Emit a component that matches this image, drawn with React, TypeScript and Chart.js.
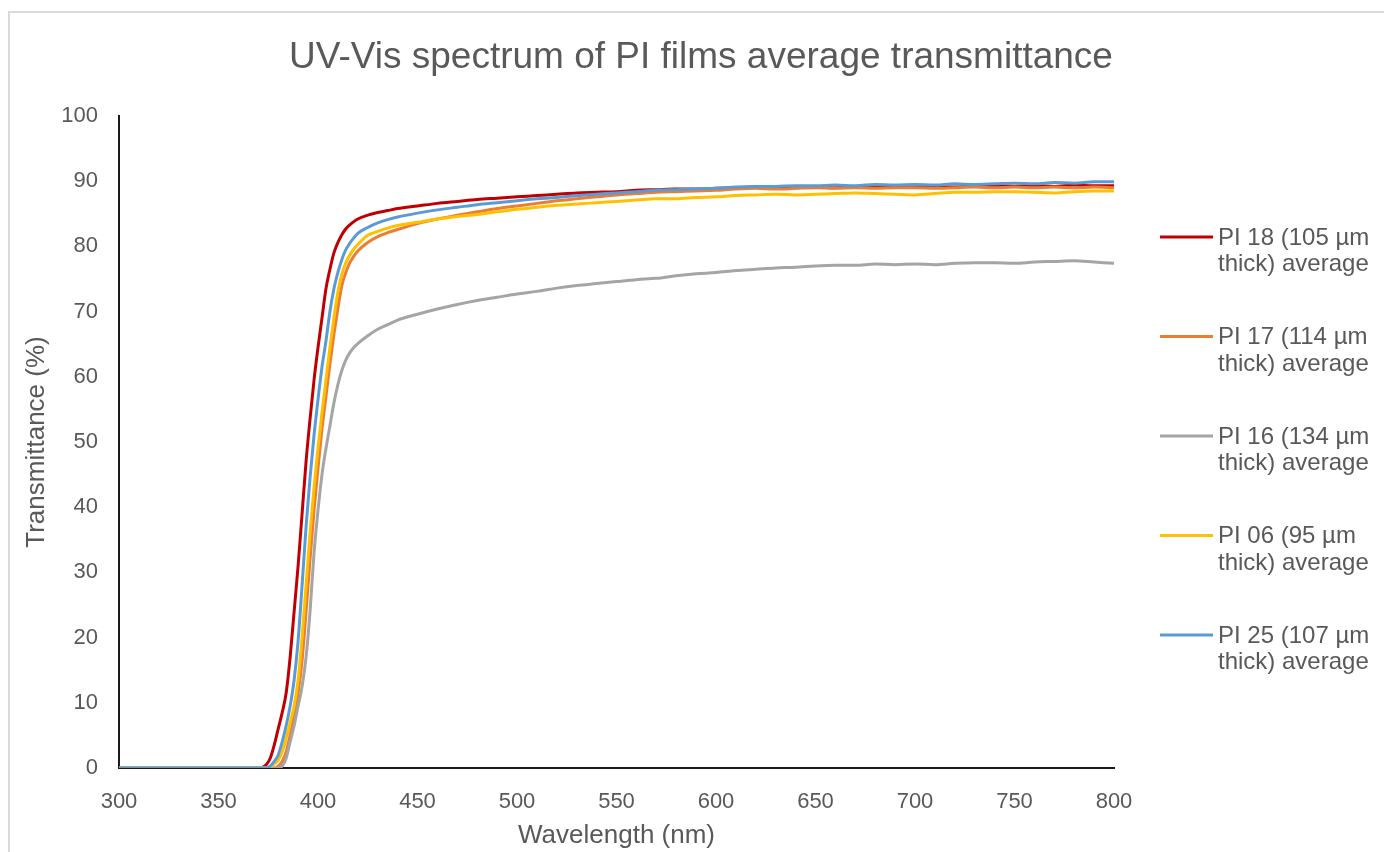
import React, { useEffect, useRef } from "react";
import { Chart, registerables } from "chart.js";

Chart.register(...registerables);

// Wavelength grid (nm): coarse in the opaque region, fine across the absorption edge.
const wavelengths = [
  300, 320, 340, 360, 370, 372, 374, 376, 378, 380, 382, 384, 386, 388, 390, 392, 394, 396, 398, 400,
  402, 404, 406, 408, 410, 412, 414, 416, 418, 420, 425, 430, 435, 440, 450, 460, 470, 480, 490, 500,
  510, 520, 530, 540, 550, 560, 570, 580, 590, 600, 610, 620, 630, 640, 650, 660, 670, 680, 690, 700,
  710, 720, 730, 740, 750, 760, 770, 780, 790, 800,
];

// Average transmittance (%) for each film
const pi18 = [
  0, 0, 0, 0, 0, 0.1, 0.5, 1.5, 3.5, 6, 8.5, 11.5, 17, 24, 31, 39, 47, 53.5, 59.5, 64.5,
  69, 73.5, 76.5, 79, 80.6, 81.8, 82.7, 83.3, 83.8, 84.2, 84.8, 85.2, 85.5, 85.8, 86.2, 86.6, 86.9, 87.2, 87.4, 87.6,
  87.8, 88.0, 88.2, 88.3, 88.4, 88.6, 88.7, 88.8, 88.8, 88.9, 89.0, 89.1, 89.0, 89.1, 89.1, 89.0, 89.2, 89.1, 89.2, 89.1,
  89.2, 89.1, 89.3, 89.2, 89.2, 89.3, 89.2, 89.4, 89.3, 89.3,
];
const pi17 = [
  0, 0, 0, 0, 0, 0, 0, 0, 0, 0.3, 1, 2.5, 5, 8, 11.5, 16.5, 24, 32, 39.5, 46,
  52, 57, 62, 66.5, 70.5, 74, 76, 77.5, 78.5, 79.3, 80.6, 81.5, 82.1, 82.6, 83.5, 84.2, 84.8, 85.3, 85.8, 86.2,
  86.6, 87.0, 87.3, 87.6, 87.9, 88.1, 88.3, 88.4, 88.5, 88.6, 88.8, 88.9, 88.8, 88.9, 89.0, 88.9, 89.0, 88.9, 89.0, 89.0,
  88.9, 89.0, 89.1, 89.0, 89.1, 89.0, 89.1, 89.0, 89.1, 89.0,
];
const pi16 = [
  0, 0, 0, 0, 0, 0, 0, 0, 0, 0, 0.3, 1.5, 4, 6.5, 9.5, 12.5, 17, 24, 33, 39.5,
  45, 49, 52.5, 56, 58.8, 61, 62.6, 63.7, 64.5, 65.1, 66.3, 67.3, 68.0, 68.7, 69.6, 70.4, 71.1, 71.7, 72.2, 72.7,
  73.1, 73.6, 74.0, 74.3, 74.6, 74.9, 75.1, 75.5, 75.8, 76.0, 76.3, 76.5, 76.7, 76.8, 77.0, 77.1, 77.1, 77.3, 77.2, 77.3,
  77.2, 77.4, 77.5, 77.5, 77.4, 77.6, 77.7, 77.8, 77.6, 77.4,
];
const pi06 = [
  0, 0, 0, 0, 0, 0, 0, 0.2, 0.6, 1.2, 2.5, 4.5, 7, 9.5, 13.5, 20, 28, 36, 43, 49,
  54.5, 59.5, 64.5, 69, 73, 75.8, 77.5, 78.7, 79.6, 80.3, 81.7, 82.3, 82.8, 83.2, 83.7, 84.2, 84.6, 84.9, 85.3, 85.7,
  86.0, 86.3, 86.5, 86.7, 86.9, 87.1, 87.3, 87.3, 87.5, 87.6, 87.8, 87.9, 88.0, 87.9, 88.0, 88.1, 88.2, 88.1, 88.0, 87.9,
  88.1, 88.3, 88.3, 88.4, 88.4, 88.3, 88.2, 88.4, 88.5, 88.5,
];
const pi25 = [
  0, 0, 0, 0, 0, 0, 0, 0.3, 1, 2, 4, 6.5, 9.5, 13.5, 19.5, 28, 37, 44.5, 51, 56.5,
  61.5, 65.5, 70, 73.5, 76, 78, 79.5, 80.5, 81.3, 82, 82.9, 83.6, 84.1, 84.5, 85.1, 85.6, 86.0, 86.4, 86.7, 87.0,
  87.3, 87.5, 87.8, 88.0, 88.2, 88.4, 88.6, 88.7, 88.8, 88.9, 89.1, 89.2, 89.2, 89.3, 89.3, 89.4, 89.3, 89.5, 89.4, 89.5,
  89.4, 89.6, 89.5, 89.6, 89.7, 89.6, 89.8, 89.7, 89.9, 89.9,
];

const seriesValues = [pi18, pi17, pi16, pi06, pi25];
const seriesLegendLines = [
  ["PI 18 (105 µm", "thick) average"],
  ["PI 17 (114 µm", "thick) average"],
  ["PI 16 (134 µm", "thick) average"],
  ["PI 06 (95 µm", "thick) average"],
  ["PI 25 (107 µm", "thick) average"],
];
const seriesColors = ["#C00000", "#ED7D31", "#A5A5A5", "#FFC000", "#5B9BD5"];

const chartTitle = "UV-Vis spectrum of PI films average transmittance";
const xAxisTitle = "Wavelength (nm)";
const yAxisTitle = "Transmittance (%)";
const xRange = [300, 800];
const yRange = [0, 100];
const xStep = 50;
const yStep = 10;

const FONT = "'Liberation Sans', Arial, sans-serif";
const TEXT_COLOR = "#595959";

// Frame, title and the two-line legend are painted directly on the canvas.
const decorations = {
  id: "decorations",
  afterDraw(chart: any) {
    const { ctx } = chart;
    ctx.save();
    ctx.strokeStyle = "#D9D9D9";
    ctx.lineWidth = 2;
    ctx.strokeRect(9, 12, 2000, 2000);

    ctx.fillStyle = TEXT_COLOR;
    ctx.font = `37px ${FONT}`;
    ctx.textAlign = "center";
    ctx.textBaseline = "middle";
    ctx.fillText(chartTitle, 701, 58);

    ctx.font = `24px ${FONT}`;
    ctx.textAlign = "left";
    const legendTop = 237;
    const entryGap = 99.5;
    seriesLegendLines.forEach((lines, i) => {
      const y = legendTop + i * entryGap;
      ctx.strokeStyle = seriesColors[i];
      ctx.lineWidth = 3;
      ctx.beginPath();
      ctx.moveTo(1160, y);
      ctx.lineTo(1213, y);
      ctx.stroke();
      ctx.fillStyle = TEXT_COLOR;
      lines.forEach((t, j) => ctx.fillText(t, 1218, y + 1 + j * 26.5));
    });
    ctx.restore();
  },
};

export default function App() {
  const canvasRef = useRef<HTMLCanvasElement | null>(null);

  useEffect(() => {
    if (!canvasRef.current) return;
    const tickFont = { family: FONT, size: 22 };
    const titleFont = { family: FONT, size: 26 };
    const chart = new Chart(canvasRef.current, {
      type: "line",
      data: {
        datasets: seriesValues.map((vals, i) => ({
          label: seriesLegendLines[i].join(" "),
          data: wavelengths.map((w, k) => ({ x: w, y: vals[k] })),
          borderColor: seriesColors[i],
          backgroundColor: seriesColors[i],
          borderWidth: 3,
          pointRadius: 0,
          cubicInterpolationMode: "monotone" as const,
          order: seriesValues.length - i,
        })),
      },
      options: {
        responsive: false,
        animation: false,
        layout: { padding: { left: 0, top: 116, right: 270, bottom: 0 } },
        plugins: { legend: { display: false }, title: { display: false }, tooltip: { enabled: false } },
        scales: {
          x: {
            type: "linear",
            min: xRange[0],
            max: xRange[1],
            afterFit: (s: any) => {
              s.height = 84;
            },
            grid: { display: false, drawTicks: false },
            border: { display: true, color: "#1A1A1A", width: 2 },
            ticks: { stepSize: xStep, padding: 21, color: TEXT_COLOR, font: tickFont, maxRotation: 0 },
            title: {
              display: true,
              text: xAxisTitle,
              color: TEXT_COLOR,
              font: titleFont,
              padding: { top: 0, bottom: 1 },
            },
          },
          y: {
            min: yRange[0],
            max: yRange[1],
            afterFit: (s: any) => {
              s.width = 119;
            },
            grid: { display: false, drawTicks: false },
            border: { display: true, color: "#1A1A1A", width: 2 },
            ticks: { stepSize: yStep, padding: 21, color: TEXT_COLOR, font: tickFont },
            title: {
              display: true,
              text: yAxisTitle,
              color: TEXT_COLOR,
              font: titleFont,
              padding: { top: 21, bottom: 0 },
            },
          },
        },
      },
      plugins: [decorations],
    });
    return () => chart.destroy();
  }, []);

  return (
    <div style={{ position: "fixed", left: 0, top: 0, width: 1384, height: 852, background: "#fff" }}>
      <canvas ref={canvasRef} width={1384} height={852} />
    </div>
  );
}
